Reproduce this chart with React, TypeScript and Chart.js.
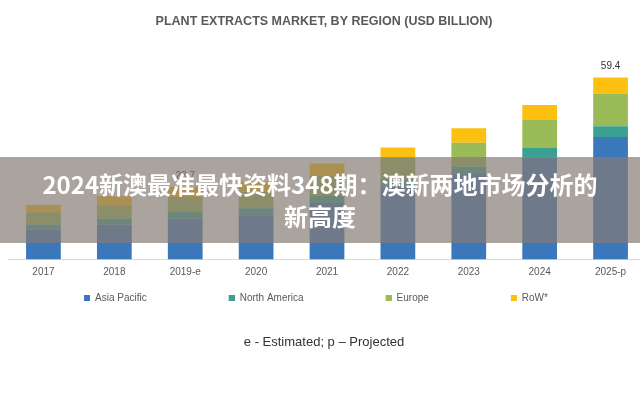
import React, { useEffect, useRef } from "react";
import { Chart, registerables } from "chart.js";

Chart.register(...registerables);

const categories = ["2017", "2018", "2019-e", "2020", "2021", "2022", "2023", "2024", "2025-p"];
const asiaPacific = [9.7, 11.4, 13.3, 14.4, 18.4, 23.8, 27.9, 33.3, 40.0];
const northAmerica = [1.7, 1.9, 2.2, 2.3, 2.5, 2.4, 2.4, 3.1, 3.5];
const europe = [4.0, 4.4, 4.9, 5.4, 6.5, 7.0, 7.8, 9.1, 10.7];
const restOfWorld = [2.4, 2.9, 3.3, 3.3, 3.9, 3.3, 4.7, 4.9, 5.2];
const totalLabels = ["", "", "23.7", "", "", "", "", "", "59.4"];
const seriesNames = ["Asia Pacific", "North America", "Europe", "RoW*"];
const seriesColors = ["#3a77bb", "#3aa091", "#9bbb59", "#fdc010"];

const titleText = "PLANT EXTRACTS MARKET, BY REGION (USD BILLION)";
const footnoteText = "e - Estimated; p \u2013 Projected";
const bannerLine1 = "2024新澳最准最快资料348期：澳新两地市场分析的";
const bannerLine2 = "新高度";

const FONT = '"Liberation Sans", Arial, "DejaVu Sans", sans-serif';

function makeMarker(color: string) {
  const c = document.createElement("canvas");
  c.width = 80;
  c.height = 6;
  const g = c.getContext("2d")!;
  g.fillStyle = color;
  g.fillRect(74, 0, 6, 6);
  return c;
}

const totalsPlugin = {
  id: "totals",
  afterDatasetsDraw(chart: any) {
    const meta = chart.getDatasetMeta(chart.data.datasets.length - 1);
    const ctx = chart.ctx;
    ctx.save();
    ctx.font = `10px ${FONT}`;
    ctx.fillStyle = "#333333";
    ctx.textAlign = "center";
    ctx.textBaseline = "bottom";
    meta.data.forEach((el: any, i: number) => {
      const t = totalLabels[i];
      if (t) ctx.fillText(t, el.x, el.y - 6);
    });
    ctx.restore();
  },
};

export default function App() {
  const ref = useRef<HTMLCanvasElement | null>(null);

  useEffect(() => {
    if (!ref.current) return;
    const markers = seriesColors.map(makeMarker);
    const series = [asiaPacific, northAmerica, europe, restOfWorld];
    const chart = new Chart(ref.current, {
      type: "bar",
      data: {
        labels: categories,
        datasets: series.map((d, i) => ({
          label: seriesNames[i],
          data: d,
          backgroundColor: seriesColors[i],
          borderWidth: 0,
          barPercentage: 0.49,
          categoryPercentage: 1,
        })),
      },
      options: {
        responsive: false,
        maintainAspectRatio: false,
        animation: false,
        devicePixelRatio: 1,
        layout: { padding: { left: 2, right: 0, top: 0, bottom: 0 } },
        scales: {
          x: {
            stacked: true,
            grid: { display: false, drawTicks: false },
            border: { display: true, color: "#d9d9d9", width: 1 },
            ticks: {
              color: "#595959",
              font: { size: 10, family: FONT },
              padding: 7,
              maxRotation: 0,
              autoSkip: false,
            },
          },
          y: {
            stacked: true,
            min: 0,
            max: 70,
            display: true,
            grid: { display: false, drawTicks: false },
            border: { display: false },
            ticks: { display: false },
            afterFit: (scale: any) => {
              scale.width = 6;
            },
          },
        },
        plugins: {
          tooltip: { enabled: false },
          title: {
            display: true,
            text: titleText,
            color: "#595959",
            font: { size: 12.5, weight: "bold", family: FONT, lineHeight: 1.2 },
            padding: { top: 14, bottom: 16 },
          },
          subtitle: {
            display: true,
            position: "bottom",
            text: footnoteText,
            color: "#333333",
            font: { size: 13, family: FONT, lineHeight: 1.2 },
            padding: { top: 21, bottom: 51 },
          },
          legend: {
            display: true,
            position: "bottom",
            align: "start",
            labels: {
              color: "#595959",
              font: { size: 10, family: FONT },
              padding: 8,
              usePointStyle: true,
              pointStyleWidth: 80,
              generateLabels: (c: any) => {
                const items = (Chart.defaults.plugins.legend.labels as any).generateLabels(c);
                return items.map((it: any, i: number) => ({ ...it, pointStyle: markers[i] }));
              },
            },
          },
        },
      },
      plugins: [totalsPlugin],
    } as any);
    return () => chart.destroy();
  }, []);

  return (
    <div
      style={{
        position: "absolute",
        left: 0,
        top: 0,
        width: 640,
        height: 401,
        overflow: "hidden",
        background: "#ffffff",
      }}
    >
      <canvas ref={ref} width={646} height={401} style={{ display: "block", width: 646, height: 401 }} />
      <div
        style={{
          position: "absolute",
          left: 0,
          top: 157,
          width: 640,
          height: 86,
          background: "rgba(134,121,115,0.69)",
          display: "flex",
          flexDirection: "column",
          alignItems: "center",
          justifyContent: "center",
          color: "#ffffff",
          fontFamily: '"Noto Sans CJK SC", "Noto Sans", sans-serif',
          fontWeight: 700,
          fontSize: 24,
          lineHeight: "32px",
          textAlign: "center",
          whiteSpace: "nowrap",
        }}
      >
        <div>{bannerLine1}</div>
        <div>{bannerLine2}</div>
      </div>
    </div>
  );
}
